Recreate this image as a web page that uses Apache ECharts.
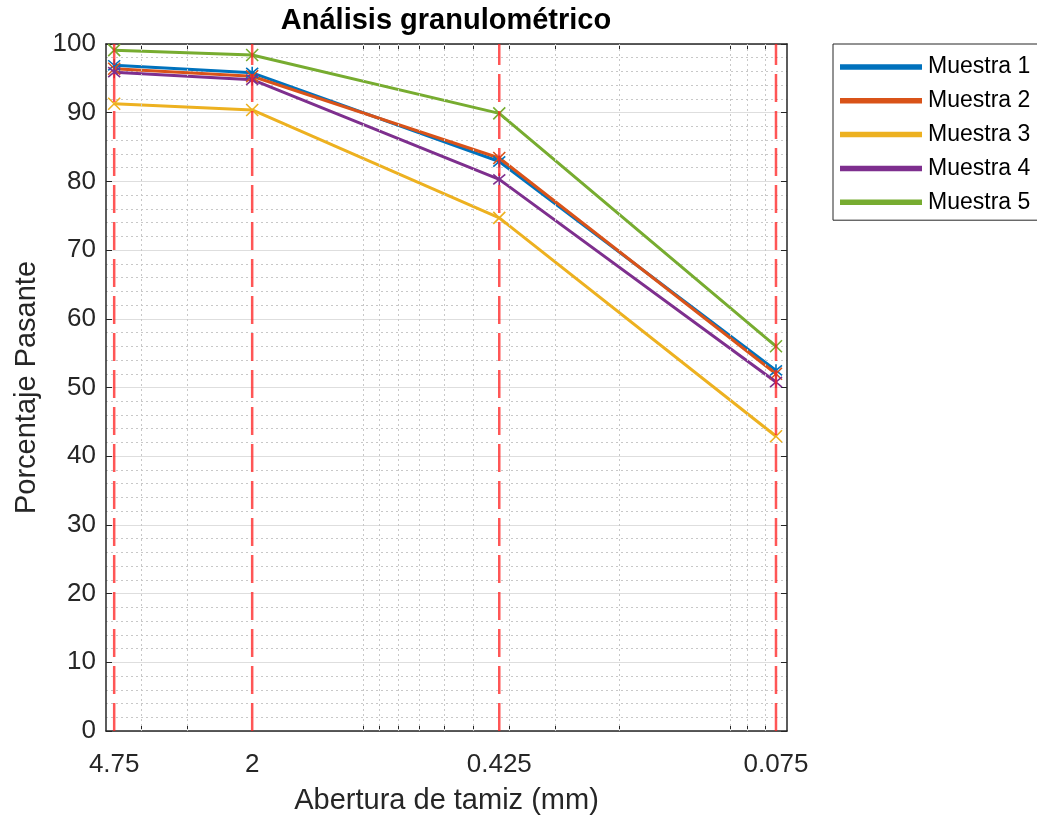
<!DOCTYPE html>
<html>
<head>
<meta charset="utf-8">
<script src="https://cdn.jsdelivr.net/npm/echarts@6/dist/echarts.min.js"></script>
<style>html,body{margin:0;padding:0;background:#fff}#c{width:1037px;height:820px}</style>
</head>
<body>
<div id="c"></div>
<script>
// ---- data ----
const sieveSizes = [4.75, 2, 0.425, 0.075];              // mm
const tickLabels = ['4.75', '2', '0.425', '0.075'];
const seriesNames = ['Muestra 1', 'Muestra 2', 'Muestra 3', 'Muestra 4', 'Muestra 5'];
const muestra1 = [96.9, 95.8, 82.9, 52.5];
const muestra2 = [96.4, 95.3, 83.4, 52.0];
const muestra3 = [91.3, 90.4, 74.7, 42.9];
const muestra4 = [95.9, 94.8, 80.3, 50.8];
const muestra5 = [99.1, 98.4, 89.9, 56.0];
const minorXTicks = [4, 3, 1, 0.9, 0.8, 0.7, 0.6, 0.5, 0.4, 0.3, 0.2, 0.1, 0.09, 0.08];
const yTicks = [0, 10, 20, 30, 40, 50, 60, 70, 80, 90, 100];

const colors = ['#0072BD', '#D95319', '#EDB120', '#7E2F8E', '#77AC30'];
const X_SYM = 'path://M0,0L10,10M10,0L0,10';
const STAR_SYM = 'path://M0.8,0.8L9.2,9.2M9.2,0.8L0.8,9.2M5,0L5,10';
const symbols = [STAR_SYM, X_SYM, X_SYM, STAR_SYM, X_SYM];
const allValues = [muestra1, muestra2, muestra3, muestra4, muestra5];

const FONT = '"Liberation Sans", Arial, Helvetica, sans-serif';
const AX = '#262626';
const yMin = yTicks[0], yMax = yTicks[yTicks.length - 1];

const dataSeries = seriesNames.map((name, i) => ({
  name,
  type: 'line',
  data: sieveSizes.map((x, j) => [x, allValues[i][j]]),
  lineStyle: { color: colors[i], width: 3 },
  itemStyle: { color: colors[i], borderColor: colors[i], borderWidth: 1.6 },
  symbol: symbols[i],
  symbolSize: 12,
  showSymbol: true,
  z: 3
}));

// vertical red dashed lines at each sieve size (spanning the y range)
const sieveLineSeries = sieveSizes.map((s, i) => ({
  name: '_sieve' + i,
  type: 'line',
  data: [[s, yMin], [s, yMax]],
  symbol: 'none',
  silent: true,
  z: 6,
  lineStyle: { color: 'rgba(255,30,30,0.75)', width: 2.5, type: [28, 9] },
  emphasis: { disabled: true }
}));

const chart = echarts.init(document.getElementById('c'), null, { renderer: 'canvas' });
chart.setOption({
  animation: false,
  backgroundColor: '#fff',
  color: colors,
  title: {
    text: 'Análisis granulométrico',
    left: 446,
    top: 6,
    padding: 0,
    textAlign: 'center',
    textStyle: { fontFamily: FONT, fontSize: 29, fontWeight: 'bold', color: '#000' }
  },
  legend: {
    data: seriesNames,
    orient: 'vertical',
    left: 833,
    top: 44,
    padding: [11, 20, 6, 7],
    itemWidth: 80,
    itemHeight: 3.5,
    itemGap: 9.8,
    icon: 'rect',
    borderColor: AX,
    borderWidth: 1,
    borderRadius: 0,
    backgroundColor: '#fff',
    textStyle: { fontFamily: FONT, fontSize: 23, color: '#000', lineHeight: 24, padding: [0, 0, 0, 2] }
  },
  grid: { left: 106, right: 250, top: 44, bottom: 86, containLabel: false },
  xAxis: [
    {
      type: 'log',
      logBase: 10,
      min: 0.07,
      max: 5,
      inverse: true,
      position: 'bottom',
      name: 'Abertura de tamiz (mm)',
      nameLocation: 'middle',
      nameGap: 55,
      nameTextStyle: { fontFamily: FONT, fontSize: 29, color: AX },
      axisLine: { show: true, onZero: false, lineStyle: { color: AX, width: 1.5 } },
      axisTick: { show: true, inside: true, length: 5, customValues: minorXTicks, lineStyle: { color: AX, width: 1 } },
      axisLabel: {
        show: true, margin: 21, customValues: sieveSizes,
        fontFamily: FONT, fontSize: 26, color: AX,
        formatter: v => { const k = sieveSizes.findIndex(s => Math.abs(s - v) < 1e-6); return k >= 0 ? tickLabels[k] : ''; }
      },
      splitLine: { show: false },
      minorTick: { show: false },
      minorSplitLine: { show: false }
    },
    {
      type: 'log',
      logBase: 10,
      min: 0.07,
      max: 5,
      inverse: true,
      position: 'top',
      axisLine: { show: true, onZero: false, lineStyle: { color: AX, width: 1.5 } },
      axisTick: { show: true, inside: true, length: 5, customValues: minorXTicks, lineStyle: { color: AX, width: 1 } },
      axisLabel: { show: false },
      splitLine: { show: false }
    }
  ],
  yAxis: [
    {
      type: 'value',
      min: yMin,
      max: yMax,
      interval: 10,
      name: 'Porcentaje Pasante',
      nameLocation: 'middle',
      nameGap: 62,
      nameTextStyle: { fontFamily: FONT, fontSize: 29, color: AX },
      axisLine: { show: true, onZero: false, lineStyle: { color: AX, width: 1.5 } },
      axisTick: { show: true, inside: true, length: 6, lineStyle: { color: AX, width: 1 } },
      axisLabel: { margin: 10, fontFamily: FONT, fontSize: 26, color: AX },
      splitLine: { show: true, lineStyle: { color: '#dedede', width: 1 } },
      minorTick: { show: false, splitNumber: 5 },
      minorSplitLine: { show: true, lineStyle: { color: '#c8c8c8', width: 1, type: [2, 3] } }
    },
    {
      type: 'value',
      min: yMin,
      max: yMax,
      interval: 10,
      position: 'right',
      axisLine: { show: true, onZero: false, lineStyle: { color: AX, width: 1.5 } },
      axisTick: { show: true, inside: true, length: 6, lineStyle: { color: AX, width: 1 } },
      axisLabel: { show: false },
      splitLine: { show: false }
    }
  ],
  series: [
    {
      name: '_minorgrid',
      type: 'line',
      data: [],
      silent: true,
      z: 1,
      markLine: {
        silent: true,
        symbol: 'none',
        animation: false,
        label: { show: false },
        lineStyle: { color: '#c8c8c8', width: 1, type: [2, 3] },
        emphasis: { disabled: true },
        data: minorXTicks.map(v => ({ xAxis: v }))
      }
    },
    ...dataSeries,
    ...sieveLineSeries
  ]
});
</script>
</body>
</html>
